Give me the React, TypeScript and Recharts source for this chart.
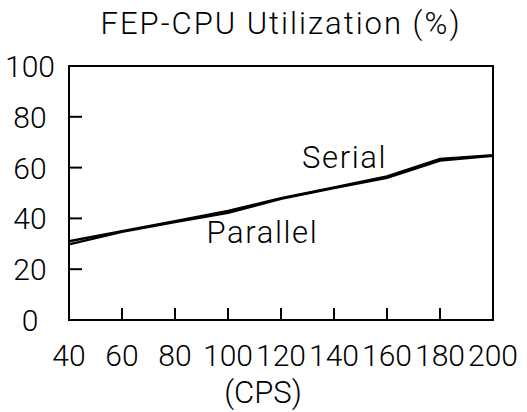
import { LineChart, Line, XAxis, YAxis, ReferenceArea, ReferenceDot } from "recharts";

// FEP-CPU utilisation vs. character rate, serial and parallel configurations.
const cps = [40, 60, 80, 100, 120, 140, 160, 180, 200];
const serial = [31.0, 35.0, 38.9, 42.9, 48.0, 52.2, 56.5, 63.4, 64.9];
const parallel = [29.8, 34.7, 38.6, 42.2, 47.7, 51.9, 56.0, 62.8, 64.6];
const yTicks = [0, 20, 40, 60, 80, 100];

const title = "FEP-CPU Utilization (%)";
const xTitle = "(CPS)";

const data = cps.map((c, i) => ({ cps: c, serial: serial[i], parallel: parallel[i] }));

const FONT = "Roboto, 'DejaVu Sans', sans-serif";
const INK = "#000";

function XTick({ x, y, payload }: any) {
  return (
    <g>
      <line x1={x} y1={y} x2={x} y2={y - 12} stroke={INK} strokeWidth={2} />
      <text x={x} y={y + 46} textAnchor="middle" fontSize={30} fontWeight={300} fontFamily={FONT} fill={INK}>
        {payload.value}
      </text>
    </g>
  );
}

function YTick({ x, y, payload }: any) {
  return (
    <g>
      <line x1={x} y1={y} x2={x + 13} y2={y} stroke={INK} strokeWidth={2} />
      <text x={x - 39} y={y + 11} textAnchor="middle" fontSize={30} fontWeight={300} fontFamily={FONT} fill={INK}>
        {payload.value}
      </text>
    </g>
  );
}

const textStyle = {
  fill: INK,
  fontSize: 31,
  fontWeight: 300,
  fontFamily: FONT,
  letterSpacing: 1.6,
};

export default function App() {
  return (
    <div style={{ position: "absolute", left: 0, top: 0, width: 527, height: 412, background: "#fff" }}>
      <LineChart width={527} height={412} data={data} margin={{ top: 66, right: 34, bottom: 0, left: 0 }}>
        <XAxis
          dataKey="cps"
          type="number"
          domain={[40, 200]}
          ticks={cps}
          interval={0}
          height={92}
          tickSize={0}
          tickMargin={0}
          tickLine={false}
          axisLine={false}
          tick={(p: any) => <XTick {...p} />}
          label={{ value: xTitle, position: "insideBottom", offset: 9, dx: -18, ...textStyle, letterSpacing: 0 }}
        />
        <YAxis
          type="number"
          domain={[0, 100]}
          ticks={yTicks}
          interval={0}
          width={69}
          tickSize={0}
          tickMargin={0}
          tickLine={false}
          axisLine={false}
          tick={(p: any) => <YTick {...p} />}
        />
        <ReferenceArea
          x1={40}
          x2={200}
          y1={0}
          y2={100}
          fill="none"
          fillOpacity={0}
          stroke={INK}
          strokeWidth={2}
          ifOverflow="visible"
        />
        <Line type="linear" dataKey="serial" stroke={INK} strokeWidth={2.4} dot={false} isAnimationActive={false} />
        <Line type="linear" dataKey="parallel" stroke={INK} strokeWidth={2.4} dot={false} isAnimationActive={false} />
        <ReferenceDot
          x={120}
          y={100}
          r={1}
          fill="none"
          stroke="none"
          label={{ value: title, position: "top", offset: 31, ...textStyle, letterSpacing: 2 }}
        />
        <ReferenceDot
          x={144}
          y={64.3}
          r={1}
          fill="none"
          stroke="none"
          label={{ value: "Serial", position: "center", ...textStyle }}
        />
        <ReferenceDot
          x={113}
          y={34.8}
          r={1}
          fill="none"
          stroke="none"
          label={{ value: "Parallel", position: "center", ...textStyle }}
        />
      </LineChart>
    </div>
  );
}
